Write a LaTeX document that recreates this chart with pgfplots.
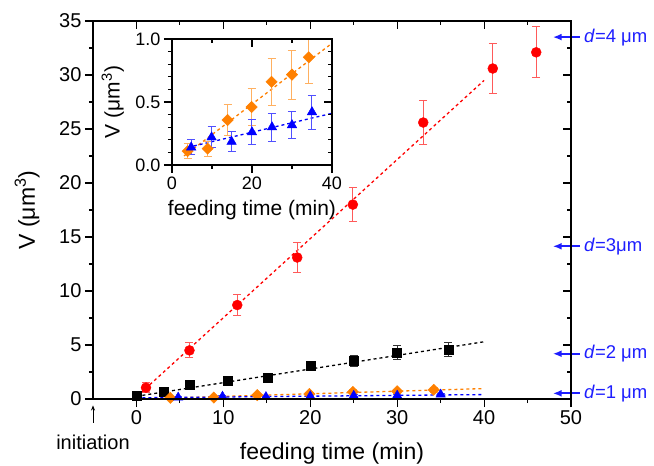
\documentclass[border=0pt]{standalone}
\usepackage{fontspec}
\setmainfont{Liberation Sans}
\usepackage{pgfplots}
\usepackage{pgfplotstable}
\pgfplotsset{compat=1.18}
\usetikzlibrary{arrows.meta}

\definecolor{myred}{RGB}{255,0,0}
\definecolor{myredeb}{RGB}{255,90,90}
\definecolor{myorange}{RGB}{255,128,0}
\definecolor{myorangeeb}{RGB}{255,176,96}
\definecolor{myblue}{RGB}{0,0,255}
\definecolor{myblueeb}{RGB}{80,80,255}
\definecolor{dblue}{RGB}{30,30,255}
\definecolor{blackeb}{RGB}{50,50,50}

\pgfplotstableread{
x y e
1.1 1.05 0.45
6.1 4.5 0.7
11.6 8.7 1.0
18.5 13.1 1.35
24.9 18.0 1.6
33.0 25.6 2.05
41.0 30.6 2.3
46.0 32.1 2.35
}\reddata

\pgfplotstableread{
x y e
0 0.35 0.2
3.1 0.68 0.25
6.1 1.36 0.3
10.5 1.67 0.3
15.1 2.0 0.35
20 3.05 0.45
25 3.55 0.5
30 4.3 0.65
35.9 4.6 0.65
}\blackdata

\pgfplotstableread{
x y e
3.9 0.11 0.06
8.9 0.13 0.06
13.9 0.357 0.125
19.9 0.46 0.15
24.9 0.66 0.185
30 0.717 0.195
34.2 0.855 0.21
}\orangedata

\pgfplotstableread{
x y e
4.8 0.14 0.06
9.9 0.22 0.085
14.9 0.185 0.078
20 0.26 0.10
25 0.30 0.11
30 0.317 0.11
35 0.42 0.135
}\bluedata

\newcommand{\bigf}{\fontsize{20}{24}\selectfont}
\newcommand{\labf}{\fontsize{23}{27}\selectfont}
\newcommand{\ilabf}{\fontsize{21}{25}\selectfont}
\newcommand{\itickf}{\fontsize{18}{21}\selectfont}
\newcommand{\df}{\fontsize{18.5}{22}\selectfont}

\tikzset{
  darrow/.style={-{Latex[length=9pt,width=7pt]}, dblue, line width=2pt},
  dlabel/.style={anchor=west, text=dblue, font=\df, inner sep=0pt},
}

\pgfplotsset{
  common/.style={
    scale only axis,
    axis line style={line width=1.3pt},
    every tick/.style={line width=1.1pt, black},
    major tick length=8pt,
    minor tick length=4pt,
    tick label style={font=\bigf},
    label style={font=\labf},
    /pgf/number format/assume math mode=true,
  },
  ebstyle/.style={error bars/.cd, y dir=both, y explicit,
    error bar style={line width=1pt, color=#1},
    error mark options={rotate=90, mark size=4pt, line width=1pt, color=#1}},
}

\begin{document}
\begin{tikzpicture}[font=\bigf]
% main axis (outside ticks, left/bottom)
\begin{axis}[common,
  width=478pt, height=378pt,
  xmin=-5, xmax=50, ymin=0, ymax=35,
  xtick={0,10,...,50}, ytick={0,5,...,35},
  minor xtick={5,15,...,45}, minor ytick={2.5,7.5,...,32.5},
  tick align=outside, xtick pos=bottom, ytick pos=left,
  xlabel={feeding time (min)},
  ylabel={V (μm\textsuperscript{3})},
  xlabel style={at={(axis description cs:0.5,-0.159)}, anchor=base},
  ylabel style={at={(axis description cs:-0.138,0.5)}, anchor=center},
  clip=false,
]
\addplot[myred, line width=1.3pt, dash pattern=on 3pt off 3pt] coordinates {(0,0.2) (40,29.5)};
\addplot[black, line width=1.3pt, dash pattern=on 3pt off 3pt] coordinates {(0,0.25) (40,5.3)};
\addplot[myorange, line width=1.3pt, dash pattern=on 3pt off 3pt] coordinates {(0,0) (40,0.966)};
\addplot[myblue, line width=1.3pt, dash pattern=on 3pt off 3pt] coordinates {(0,0.11) (40,0.41)};

\addplot[only marks, mark=*, mark size=5pt, color=myred, ebstyle=myredeb] table[x=x,y=y,y error=e]{\reddata};
\addplot[only marks, mark=square*, mark size=4.5pt, color=black, ebstyle=blackeb] table[x=x,y=y,y error=e]{\blackdata};
\addplot[only marks, mark=square*, mark options={rotate=45}, mark size=4pt, color=myorange, ebstyle=myorangeeb] table[x=x,y=y,y error=e]{\orangedata};
\addplot[only marks, mark=triangle*, mark size=5.5pt, color=myblue, ebstyle=myblueeb] table[x=x,y=y,y error=e]{\bluedata};

% annotations
\draw[-{Stealth[length=5pt,width=4pt]}, line width=0.8pt] (axis cs:-5,-2.2) -- (axis cs:-5,-0.6);
\node[font=\bigf] at (axis cs:-5,-4.0) {initiation};
\draw[darrow] (axis cs:51.0,33.51) -- (axis cs:47.9,33.51);
\node[dlabel] at (axis cs:51.5,33.51) {\textit{d}=4 μm};
\draw[darrow] (axis cs:51.0,14.14) -- (axis cs:47.9,14.14);
\node[dlabel] at (axis cs:51.5,14.14) {\textit{d}=3μm};
\draw[darrow] (axis cs:51.0,4.19) -- (axis cs:47.9,4.19);
\node[dlabel] at (axis cs:51.5,4.19) {\textit{d}=2 μm};
\draw[darrow] (axis cs:51.0,0.524) -- (axis cs:47.9,0.524);
\node[dlabel] at (axis cs:51.5,0.524) {\textit{d}=1 μm};
\end{axis}
% overlay axis (inside ticks, top/right)
\begin{axis}[common,
  width=478pt, height=378pt,
  xmin=-5, xmax=50, ymin=0, ymax=35,
  xtick={0,10,...,50}, ytick={0,5,...,35},
  minor xtick={5,15,...,45}, minor ytick={2.5,7.5,...,32.5},
  tick align=inside, xtick pos=top, ytick pos=right,
  xticklabels={}, yticklabels={},
]
\end{axis}

% inset
\begin{axis}[common,
  at={(79pt,234pt)}, anchor=south west,
  width=160pt, height=126pt,
  xmin=0, xmax=40, ymin=0, ymax=1,
  xtick={0,20,40}, minor xtick={10,30},
  ytick={0,0.5,1}, minor ytick={0.1,0.2,0.3,0.4,0.6,0.7,0.8,0.9},
  tick label style={font=\itickf},
  label style={font=\ilabf},
  yticklabel style={/pgf/number format/.cd, fixed, fixed zerofill, precision=1},
  tick align=outside, xtick pos=bottom, ytick pos=left,
  axis background/.style={fill=white},
  xlabel={feeding time (min)},
  ylabel={V (μm\textsuperscript{3})},
  xlabel style={at={(axis description cs:0.5,-0.40)}, anchor=base},
  ylabel style={at={(axis description cs:-0.37,0.5)}, anchor=center},
]
\addplot[myorange, line width=1.3pt, dash pattern=on 3pt off 3pt] coordinates {(3,0.072) (40,0.966)};
\addplot[myblue, line width=1.3pt, dash pattern=on 3pt off 3pt] coordinates {(4,0.14) (40,0.41)};
\addplot[only marks, mark=square*, mark options={rotate=45}, mark size=4pt, color=myorange, ebstyle=myorangeeb] table[x=x,y=y,y error=e]{\orangedata};
\addplot[only marks, mark=triangle*, mark size=5.5pt, color=myblue, ebstyle=myblueeb] table[x=x,y=y,y error=e]{\bluedata};
\end{axis}
\begin{axis}[common,
  at={(79pt,234pt)}, anchor=south west,
  width=160pt, height=126pt,
  xmin=0, xmax=40, ymin=0, ymax=1,
  xtick={0,20,40}, minor xtick={10,30},
  ytick={0,0.5,1}, minor ytick={0.1,0.2,0.3,0.4,0.6,0.7,0.8,0.9},
  tick align=inside, xtick pos=top, ytick pos=right,
  xticklabels={}, yticklabels={},
]
\end{axis}
\pgfresetboundingbox
\path (-93pt,-67pt) rectangle (561pt,399pt);
\end{tikzpicture}
\end{document}
